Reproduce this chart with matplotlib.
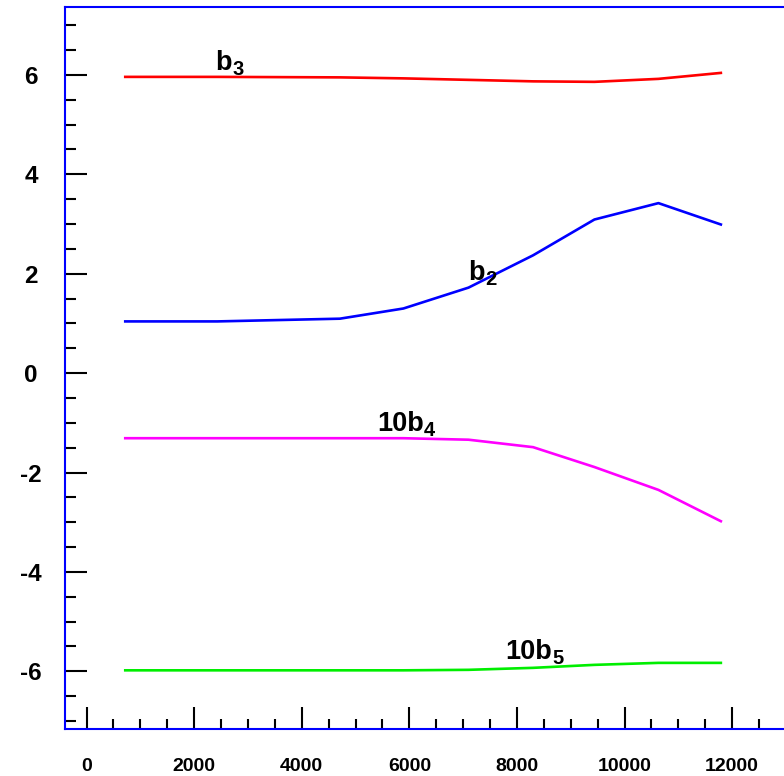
import matplotlib.pyplot as plt
from matplotlib.ticker import MultipleLocator

plt.rcParams['font.family'] = ['Liberation Sans', 'DejaVu Sans']

# sample positions
x = [720, 2430, 4710, 5890, 7100, 8300, 9440, 10630, 11790]

# coefficient curves
b3 = [5.96, 5.96, 5.95, 5.93, 5.90, 5.87, 5.86, 5.92, 6.04]
b2 = [1.04, 1.04, 1.095, 1.30, 1.72, 2.37, 3.09, 3.42, 2.99]
b4x10 = [-1.31, -1.31, -1.31, -1.31, -1.34, -1.49, -1.89, -2.35, -2.98]
b5x10 = [-5.98, -5.98, -5.98, -5.98, -5.97, -5.93, -5.87, -5.83, -5.83]

xticks = [0, 2000, 4000, 6000, 8000, 10000, 12000]
yticks = [-6, -4, -2, 0, 2, 4, 6]

fig = plt.figure(figsize=(7.84, 7.76), dpi=100)
ax = fig.add_axes([0.0829, 0.0606, 0.9196, 0.930])

ax.plot(x, b3, color='#ff0000', lw=1.9)
ax.plot(x, b2, color='#0000ff', lw=1.9)
ax.plot(x, b4x10, color='#ff00ff', lw=1.9)
ax.plot(x, b5x10, color='#00ee00', lw=1.9)


def curve_label(xpos, ypos, main, sub):
    t = ax.text(xpos, ypos, main, fontsize=19.5, fontweight='bold',
                va='baseline')
    # subscript hangs just below the baseline of the main text
    ax.annotate(sub, xy=(1, 0), xycoords=t, xytext=(0.5, 0.8),
                textcoords='offset points', fontsize=14.5,
                fontweight='bold', va='baseline')


curve_label(2391, 6.09, 'b', '3')
curve_label(7096, 1.88, 'b', '2')
curve_label(5395, -1.17, '10b', '4')
curve_label(7778, -5.75, '10b', '5')

ax.set_xlim(-400, 13000)
ax.set_ylim(-7.16, 7.36)

for side in ['left', 'bottom', 'top']:
    ax.spines[side].set_color('#0000ff')
    ax.spines[side].set_linewidth(1.5)
ax.spines['right'].set_visible(False)

ax.set_xticks(xticks)
ax.set_xticklabels([str(v) for v in xticks])
ax.set_yticks(yticks)
ax.set_yticklabels([str(v) for v in yticks])
ax.xaxis.set_minor_locator(MultipleLocator(500))
ax.yaxis.set_minor_locator(MultipleLocator(0.5))

ax.tick_params(axis='x', which='major', direction='in', length=15.5, width=1.5,
               color='black', pad=21, labelsize=14)
ax.tick_params(axis='x', which='minor', direction='in', length=7.5, width=1.5,
               color='black')
ax.tick_params(axis='y', which='major', direction='in', length=16, width=1.5,
               color='black', pad=24.5, labelsize=17.5)
ax.tick_params(axis='y', which='minor', direction='in', length=8, width=1.5,
               color='black')
for t in ax.get_xticklabels() + ax.get_yticklabels():
    t.set_fontweight('bold')
for t in ax.get_yticklabels():
    t.set_horizontalalignment('center')

fig.savefig('out.png', dpi=100)
